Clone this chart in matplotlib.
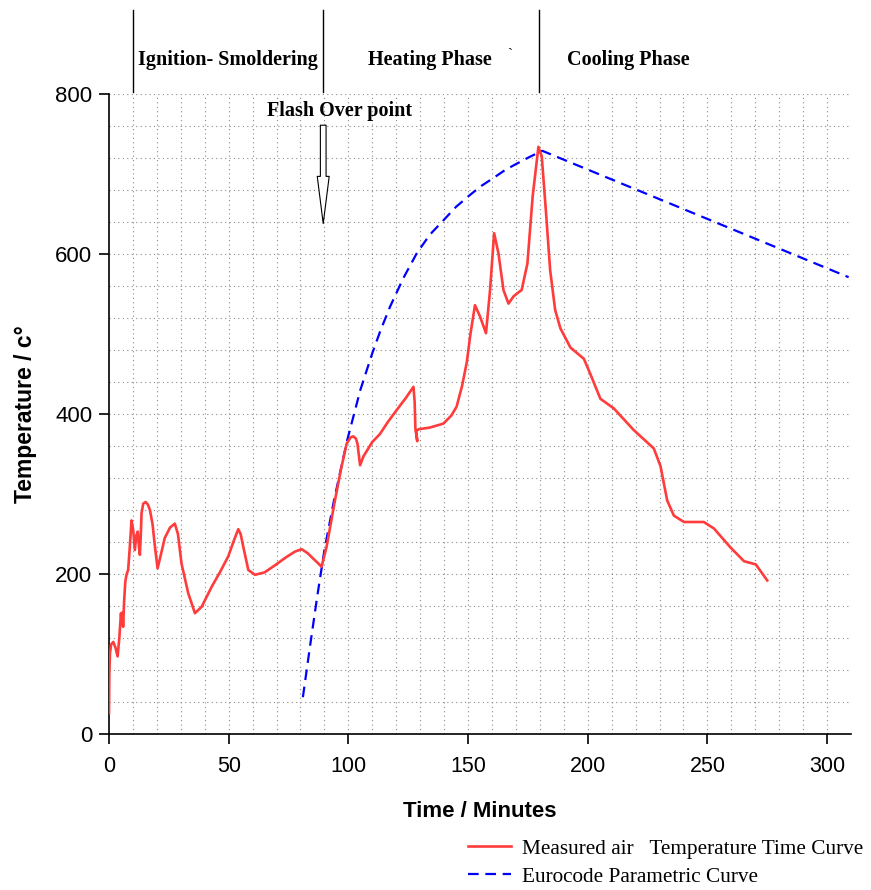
import matplotlib
matplotlib.use("Agg")
import matplotlib.pyplot as plt
import numpy as np

# ---------------- data ----------------
measured_t = [0, 0.15, 0.4, 0.9, 1.8, 2.7, 3.6, 4.3, 5.0, 5.3, 5.6, 5.9, 6.3, 6.8, 7.3, 8.0,
              8.7, 9.4, 10.1, 10.8, 11.4, 12.0, 12.5, 12.9, 13.3, 13.6, 14.3, 15.3, 16.2,
              17.1, 18.2, 19.2, 20.3, 21.5, 23.3, 25.5, 27.5, 28.8, 30.3, 33.1, 35.9, 38.7,
              42.9, 46.5, 49.8, 52.2, 54.0, 55.0, 56.1, 58.2, 61.0, 65.0, 69.4, 74.0, 77.7,
              80.5, 83.0, 85.4, 87.5, 88.8, 90.9, 94.4, 97.0, 99.3, 101.0, 102.1, 103.2,
              103.8, 104.9, 106.3, 110.0, 113.2, 116.5, 120.2, 124.0, 127.2, 127.7, 128.0,
              128.8, 128.3, 129.5, 134.0, 139.7, 143.0, 145.2, 147.5, 149.5, 151.0, 152.9,
              155.0, 157.5, 159.2, 160.9, 162.7, 164.8, 166.9, 169.0, 170.6, 172.4, 174.8,
              177.0, 179.4, 180.8, 182.6, 184.3, 186.4, 188.6, 192.8, 198.4, 201.1, 205.3,
              210.9, 219.2, 227.6, 230.4, 233.2, 236.0, 240.2, 248.5, 252.7, 259.7, 265.3,
              270.2, 275.0]
measured_T = [26, 75, 101, 112, 115, 108, 97, 120, 151, 138, 152, 134, 165, 190, 199, 205,
              234, 267, 255, 230, 248, 253, 235, 224, 250, 276, 288, 290, 287,
              280, 262, 234, 207, 222, 245, 258, 263, 250, 213, 176, 151, 159,
              184, 203, 222, 242, 256, 250, 234, 205, 199, 202, 211, 221, 228,
              231, 226, 219, 213, 209, 234, 292, 332, 363, 371, 372, 369,
              363, 336, 347, 365, 375, 390, 405, 420, 434, 415, 382,
              366, 379, 381, 383, 388, 398, 409, 435, 465, 500, 536,
              522, 501, 555, 626, 601, 555, 538, 547, 551, 555, 588,
              672, 734, 722, 651, 580, 530, 507, 483, 469, 450, 419,
              407, 380, 357, 335, 292, 273, 265, 265, 257, 233, 216,
              212, 192]

eurocode_t = [81, 84, 87, 90, 94, 99.5, 105, 110, 113.5, 117.4, 123, 128.6, 134, 139.7,
              145, 150.9, 155.5, 160.6, 165.5, 170.4, 175.5, 181, 309]
eurocode_T = [46, 110, 172, 230, 292, 367, 430, 476, 505, 534, 570, 601, 624, 642,
              659, 674, 685, 695, 705, 713, 721, 729, 571]

x_ticks = [0, 50, 100, 150, 200, 250, 300]
y_ticks = [0, 200, 400, 600, 800]
phase_bounds = [10, 89.4, 179.7]
phase_labels = ["Ignition- Smoldering", "Heating Phase", "Cooling Phase"]
phase_label_x = [49.7, 134.0, 217.0]

# ---------------- figure ----------------
W, H = 871, 890
fig = plt.figure(figsize=(W / 100, H / 100), dpi=100)
ax = fig.add_axes([109 / W, 1 - 734 / H, (851 - 109) / W, 640 / H])
ax.set_xlim(0, 310)
ax.set_ylim(0, 800)

# grid
for gx in np.arange(10, 311, 10):
    ax.axvline(gx, color="#8a8a8a", lw=0.8, ls=(0, (1, 3)), zorder=0)
for gy in np.arange(40, 801, 40):
    ax.axhline(gy, color="#8a8a8a", lw=0.8, ls=(0, (1, 3)), zorder=0)

# curves
ax.plot(measured_t, measured_T, color="#ff3b3b", lw=1.9, solid_joinstyle="round",
        label="Measured air   Temperature Time Curve", zorder=3)
ax.plot(eurocode_t, eurocode_T, color="#0000ff", lw=1.6, dashes=(4.8, 3.0),
        label="Eurocode Parametric Curve", zorder=2)

# spines and ticks
for s in ["top", "right"]:
    ax.spines[s].set_visible(False)
for s in ["left", "bottom"]:
    ax.spines[s].set_linewidth(1.2)
ax.set_xticks(x_ticks)
ax.set_yticks(y_ticks)
ax.tick_params(axis="both", direction="out", length=7, width=1.2, color="black")
ax.set_xticklabels([str(v) for v in x_ticks], fontfamily="Liberation Sans", fontsize=15.5)
ax.set_yticklabels([str(v) for v in y_ticks], fontfamily="Liberation Sans", fontsize=16)
ax.tick_params(axis="x", pad=9)
ax.tick_params(axis="y", pad=5)

ax.set_xlabel("Time / Minutes", fontfamily="Liberation Sans",
              fontsize=16, fontweight="bold", labelpad=17)
ax.set_ylabel("Temperature / c°", fontfamily="Liberation Sans", fontsize=16.5,
              fontweight="bold", labelpad=13)

# phase separators above axes
for b in phase_bounds:
    ax.plot([b, b], [802.5, 905], color="black", lw=1.0, clip_on=False)
for lbl, lx in zip(phase_labels, phase_label_x):
    ax.text(lx, 842, lbl, ha="center", va="center", fontfamily="Liberation Serif",
            fontweight="bold", fontsize=14.5, clip_on=False)
ax.text(167.6, 850, "`", ha="center", va="center", fontfamily="Liberation Serif",
        fontsize=11, clip_on=False)

# flash over annotation
ax.text(96.5, 779, "Flash Over point", ha="center", va="center",
        fontfamily="Liberation Serif", fontweight="bold", fontsize=14.5)
ax.annotate("", xy=(89.5, 638), xytext=(89.5, 761),
            arrowprops=dict(arrowstyle="simple,head_length=3.4,head_width=0.86,tail_width=0.41",
                            mutation_scale=10, fc="white", ec="black", lw=0.8,
                            shrinkA=0, shrinkB=0))

# legend
fig.legend(loc="upper left", bbox_to_anchor=(468 / W, 1 - 839 / H), frameon=False,
           prop={"family": "Liberation Serif", "size": 15.3}, handlelength=2.0,
           handletextpad=0.55, labelspacing=0.38, borderpad=0, borderaxespad=0)

fig.savefig("out.png", dpi=100)
